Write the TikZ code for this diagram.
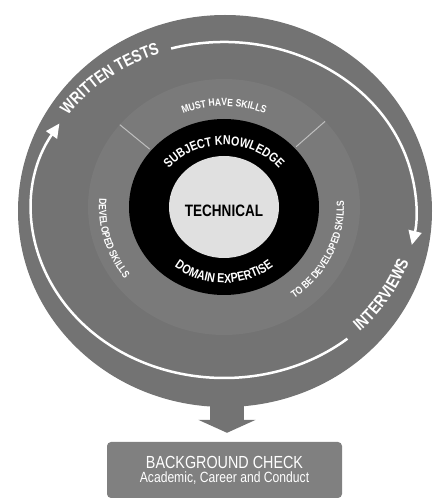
\documentclass[tikz,border=0pt]{standalone}
\usepackage{fontspec}
\newfontfamily\narrowsf[FakeStretch=0.82]{Liberation Sans}
\usetikzlibrary{arrows.meta,calc,decorations.text}

\definecolor{ringgray}{gray}{0.45}
\definecolor{skillgray}{gray}{0.48}
\definecolor{coregray}{gray}{0.88}
\definecolor{boxgray}{gray}{0.5}
\definecolor{linegray}{gray}{0.75}

\tikzstyle{ringtext} = [decorate, decoration={text along path, text align=center}]
\tikzstyle{cyclearrow} = [white, line width=2.5pt, -{Triangle[width=13pt,length=14pt]}]
\tikzstyle{divider} = [linegray, line width=1pt]
\tikzstyle{blockarrow} = [ringgray, line width=34pt, -{Triangle[width=57pt,length=13pt]}, shorten >=9pt]
\tikzstyle{check} = [rectangle, rounded corners=4pt, fill=boxgray, text=white, align=center,
                     minimum width=235pt, minimum height=56pt, inner sep=0pt]
\tikzstyle{tech} = [text=black, font=\narrowsf\bfseries\fontsize{16.5}{17}\selectfont]

\begin{document}
\begin{tikzpicture}[x=1pt, y=1pt, font=\narrowsf]
\useasboundingbox (0,0) rectangle (435,498);

\coordinate (disc) at (225,287);
\coordinate (loophub) at (224,288);
\coordinate (hub) at (224,291);

\fill[ringgray] (disc) ellipse [x radius=207, y radius=196];
\fill[skillgray] (hub) ellipse [x radius=136, y radius=128];
\fill[black] (hub) ellipse [x radius=95, y radius=88];
\fill[coregray] (hub) ellipse [x radius=55, y radius=51];

\draw[divider] ($(hub)+(140:97 and 90)$) -- ($(hub)+(140:136 and 128)$);
\draw[divider] ($(hub)+(42:97 and 90)$) -- ($(hub)+(42:136 and 128)$);

\node[tech] (technical) at (224,287) {TECHNICAL};

\path[ringtext, decoration={text={|\narrowsf\bfseries\fontsize{13}{14}\selectfont\color{white}|SUBJECT KNOWLEDGE}}]
    ($(hub)+(165:70 and 62)$) arc[start angle=165, end angle=15, x radius=70, y radius=62];
\path[ringtext, decoration={text={|\narrowsf\bfseries\fontsize{13}{14}\selectfont\color{white}|DOMAIN EXPERTISE}}]
    ($(hub)+(200:80 and 76)$) arc[start angle=200, end angle=340, x radius=80, y radius=76];

\path[ringtext, decoration={text={|\narrowsf\bfseries\fontsize{10.5}{12}\selectfont\color{white}|MUST HAVE SKILLS}}]
    ($(hub)+(135:106 and 101)$) arc[start angle=135, end angle=45, x radius=106, y radius=101];
\path[ringtext, decoration={text={|\narrowsf\bfseries\fontsize{10.5}{12}\selectfont\color{white}|DEVELOPED SKILLS}}]
    ($(hub)+(165:125 and 118)$) arc[start angle=165, end angle=228, x radius=125, y radius=118];
\path[ringtext, decoration={text={|\narrowsf\bfseries\fontsize{10.5}{12}\selectfont\color{white}|TO BE DEVELOPED SKILLS}}]
    ($(hub)+(-75:120 and 113)$) arc[start angle=-75, end angle=25, x radius=120, y radius=113];

\draw[cyclearrow] ($(loophub)+(106:192 and 168)$) arc[start angle=106, end angle=-12, x radius=192, y radius=168];
\draw[cyclearrow] ($(loophub)+(-50:192 and 168)$) arc[start angle=-50, end angle=-211, x radius=192, y radius=168];

\path[ringtext, decoration={text={|\narrowsf\bfseries\fontsize{17}{18}\selectfont\color{white}|WRITTEN TESTS}}]
    ($(loophub)+(158:190 and 166)$) arc[start angle=158, end angle=98, x radius=190, y radius=166];
\path[ringtext, decoration={text={|\narrowsf\bfseries\fontsize{17}{18}\selectfont\color{white}|INTERVIEWS}}]
    ($(loophub)+(-60:194 and 170)$) arc[start angle=-60, end angle=-2, x radius=194, y radius=170];

\node[check] (background) at (224.5,28) {{\fontsize{17.5}{19}\selectfont BACKGROUND CHECK}\\[2pt]
    {\fontsize{14.8}{16}\selectfont Academic, Career and Conduct}};

\coordinate (discbottom) at (227,100);
\draw[blockarrow] (discbottom) -- (discbottom |- background.north);
\end{tikzpicture}
\end{document}
